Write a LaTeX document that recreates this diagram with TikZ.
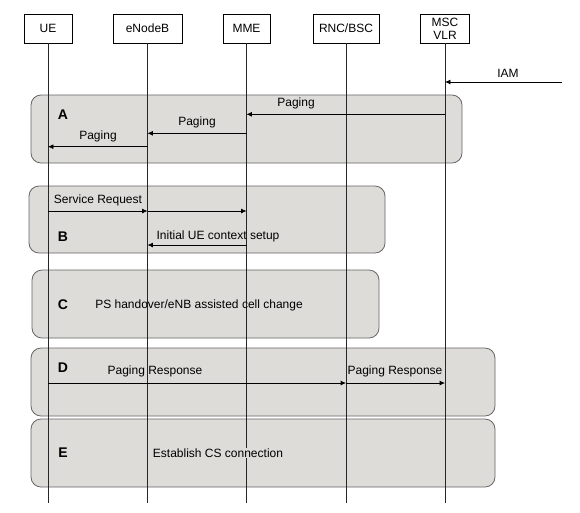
\documentclass[tikz,border=0pt]{standalone}
\usepackage{fontspec}
\setmainfont{Liberation Sans}
\usepackage{xcolor}
\usetikzlibrary{arrows.meta}

\definecolor{phasefill}{RGB}{222,220,216}
\definecolor{phaseline}{RGB}{100,100,100}

\tikzset{
  entity/.style={draw, fill=white, minimum height=22pt, inner sep=1pt, align=center, font=\fontsize{9}{10}\selectfont},
  life/.style={draw=black!85, line width=0.6pt},
  phase/.style={draw=phaseline, fill=phasefill, rounded corners=7.5pt, line width=0.6pt},
  msg/.style={draw, line width=0.5pt, -{Latex[length=4pt,width=3.6pt]}},
  lbl/.style={font=\fontsize{9}{10}\selectfont, inner sep=0.5pt},
  tag/.style={font=\fontsize{10.5}{12}\selectfont\bfseries, inner sep=0pt}
}

\begin{document}
\begin{tikzpicture}[x=0.75pt,y=0.75pt,yscale=-1,xscale=1]
\useasboundingbox (0,0) rectangle (580,512);

% phase boxes
\draw[phase] (31,95) rectangle (462,163);
\draw[phase] (29,186) rectangle (385,253);
\draw[phase] (32,270) rectangle (379,338);
\draw[phase] (31,348) rectangle (495,416);
\draw[phase] (31,419) rectangle (495,487);

% entities
\node[entity, minimum width=36pt] (ue) at (48,28.5) {UE};
\node[entity, minimum width=52pt] (enb) at (147.5,28.5) {eNodeB};
\node[entity, minimum width=35.5pt] (mme) at (246.5,28.5) {MME};
\node[entity, minimum width=49.5pt] (rnc) at (346,28.5) {RNC/BSC};
\node[entity, minimum width=36.5pt] (msc) at (445,28.5) {MSC\\VLR};

% lifelines
\coordinate (ueEnd) at (48,503);
\coordinate (enbEnd) at (147.5,503);
\coordinate (mmeEnd) at (246.5,503);
\coordinate (rncEnd) at (346,503);
\coordinate (mscEnd) at (445,503);
\draw[life] (ue) -- (ueEnd);
\draw[life] (enb) -- (enbEnd);
\draw[life] (mme) -- (mmeEnd);
\draw[life] (rnc) -- (rncEnd);
\draw[life] (msc) -- (mscEnd);

% IAM
\coordinate (net) at (562,82);
\draw[msg] (net) -- (msc |- net);
\node[lbl] (iam) at (508,73) {IAM};

% A
\node[tag] (tagA) at (63,115) {A};
\draw[msg] (msc |- 0,114.3) -- (mme |- 0,114.3);
\node[lbl] (pagA) at (296,103) {Paging};
\draw[msg] (mme |- 0,133.3) -- (enb |- 0,133.3);
\node[lbl] (pagB) at (197,122) {Paging};
\draw[msg] (enb |- 0,146.7) -- (ue |- 0,146.7);
\node[lbl] (pagC) at (98,136) {Paging};

% B
\node[tag] (tagB) at (63,237) {B};
\draw[msg] (ue |- 0,211) -- (enb |- 0,211);
\draw[msg] (enb |- 0,211) -- (mme |- 0,211);
\node[lbl] (servreq) at (98,200) {Service Request};
\draw[msg] (mme |- 0,245) -- (enb |- 0,245);
\node[lbl] (ctx) at (218,236) {Initial UE context setup};

% C
\node[tag] (tagC) at (63,305) {C};
\node[lbl] (psho) at (199,305) {PS handover/eNB assisted cell change};

% D
\node[tag] (tagD) at (63,368) {D};
\draw[msg] (ue |- 0,383) -- (rnc |- 0,383);
\draw[msg] (rnc |- 0,383) -- (msc |- 0,383);
\node[lbl] (presA) at (155,371) {Paging Response};
\node[lbl] (presB) at (395,371) {Paging Response};

% E
\node[tag] (tagE) at (63,453) {E};
\node[lbl, fill=phasefill] (cs) at (218,453) {Establish CS connection};

\end{tikzpicture}
\end{document}
